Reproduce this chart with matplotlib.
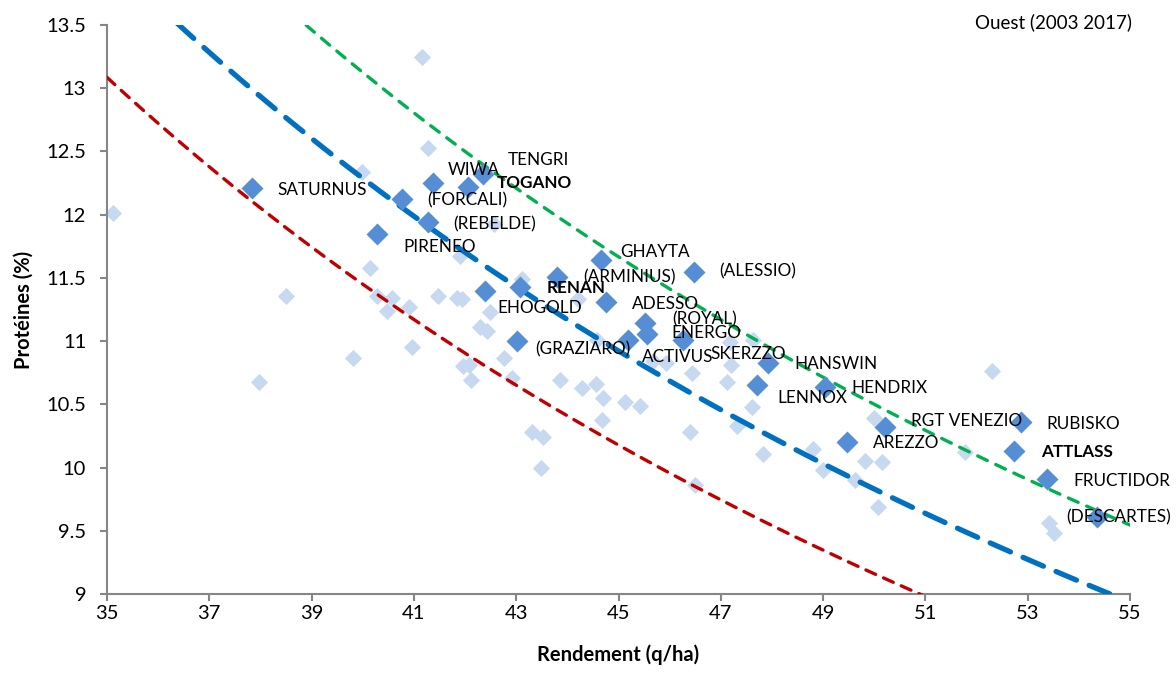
import matplotlib
matplotlib.use("Agg")
import numpy as np
from matplotlib import pyplot as plt

plt.rcParams["font.family"] = ["Lato", "DejaVu Sans"]

# All varieties (light diamonds): yield (q/ha), protein (%)
all_yield = [35.11, 37.97, 38.50, 39.81, 39.98, 40.14, 40.27, 40.57, 40.47, 40.90,
             40.96, 41.16, 41.27, 41.47, 41.84, 41.94, 41.90, 41.96, 42.07, 42.11,
             42.29, 42.43, 42.49, 42.56, 42.76, 42.92, 43.11, 43.31, 43.52, 43.48,
             43.85, 44.21, 44.28, 44.56, 44.58, 44.70, 44.68, 45.13, 45.42, 45.67,
             45.93, 46.44, 46.40, 46.49, 47.18, 47.20, 47.12, 47.32, 47.63, 47.61,
             47.82, 48.80, 49.00, 49.62, 49.82, 50.15, 50.00, 50.07, 52.30, 51.78,
             53.42, 53.52]
all_protein = [12.01, 10.68, 11.36, 10.87, 12.34, 11.58, 11.36, 11.34, 11.24, 11.27,
               10.95, 13.25, 12.53, 11.36, 11.34, 11.33, 11.67, 10.80, 10.81, 10.69,
               11.11, 11.08, 11.23, 11.93, 10.87, 10.71, 11.49, 10.28, 10.24, 10.00,
               10.69, 11.33, 10.63, 10.66, 11.01, 10.55, 10.38, 10.52, 10.49, 10.84,
               10.83, 10.75, 10.28, 9.86, 10.99, 10.81, 10.68, 10.33, 11.01, 10.48,
               10.11, 10.15, 9.98, 9.90, 10.05, 10.04, 10.39, 9.69, 10.76, 10.12,
               9.56, 9.48]

# Named varieties (dark diamonds)
names = ["SATURNUS", "WIWA", "TOGANO", "TENGRI", "(FORCALI)", "(REBELDE)", "PIRENEO",
         "GHAYTA", "(ARMINIUS)", "(ALESSIO)", "RENAN", "EHOGOLD", "ADESSO", "(ROYAL)",
         "ENERGO", "(GRAZIARO)", "ACTIVUS", "SKERZZO", "HANSWIN", "LENNOX", "HENDRIX",
         "AREZZO", "RGT VENEZIO", "RUBISKO", "ATTLASS", "FRUCTIDOR", "(DESCARTES)"]
named_yield = [37.83, 41.37, 42.05, 42.35, 40.76, 41.27, 40.27,
               44.66, 43.80, 46.47, 43.07, 42.39, 44.75, 45.52,
               45.55, 43.01, 45.18, 46.26, 47.92, 47.71, 49.04,
               49.47, 50.21, 52.87, 52.73, 53.38, 54.36]
named_protein = [12.21, 12.25, 12.22, 12.32, 12.12, 11.94, 11.85,
                 11.64, 11.51, 11.55, 11.43, 11.40, 11.31, 11.14,
                 11.06, 11.00, 11.01, 11.01, 10.83, 10.65, 10.64,
                 10.20, 10.32, 10.36, 10.13, 9.91, 9.61]
bold_names = ["TOGANO", "RENAN", "ATTLASS"]

# label placement (pixel offset from the marker)
label_offsets = [(26, -2), (15, 13), (29, 4), (25, 14), (26, -1), (26, -2), (27, -13),
                 (19, 8), (26, -1), (26, 0), (27, -1), (12, -17), (26, -2), (27, 4),
                 (25, 1), (19, -8), (14, -17), (27, -14), (27, -1), (20, -13), (26, -1),
                 (26, -1), (26, 6), (25, -2), (27, -1), (26, -2), (-31, -1)]

# iso protein-yield curves (q/ha of protein x 100): protein = k / yield
iso_k = [458.0, 491.5, 525.0]
iso_colors = ["#C00000", "#0070C0", "#00B050"]
iso_widths = [2.4, 3.8, 2.4]
iso_dashes = [(3.2, 2.6), (4.2, 2.6), (3.2, 2.8)]

fig = plt.figure(figsize=(11.76, 6.8), dpi=100)
ax = fig.add_axes([107 / 1176, 1 - 594 / 680, (1130 - 107) / 1176, (594 - 25) / 680])

ax.scatter(all_yield, all_protein, marker="D", s=8.7 ** 2, color="#C6D9F1",
           linewidths=0, zorder=2, clip_on=False)

x_line = np.linspace(35, 55, 400)
for k, c, w, d in zip(iso_k, iso_colors, iso_widths, iso_dashes):
    ax.plot(x_line, k / x_line, color=c, lw=w, dashes=d, solid_capstyle="round",
            dash_capstyle="round", zorder=3)

ax.scatter(named_yield, named_protein, marker="D", s=11.2 ** 2, color="#558ED5",
           linewidths=0, zorder=4, clip_on=False)

for n, x, y, (dx, dy) in zip(names, named_yield, named_protein, label_offsets):
    ax.annotate(n, (x, y), xytext=(dx, dy), textcoords="offset pixels",
                ha="left", va="center", fontsize=12.3,
                fontweight="bold" if n in bold_names else "normal",
                color="black", zorder=5, annotation_clip=False)

ax.set_xlim(35, 55)
ax.set_ylim(9, 13.5)
ax.set_xticks(np.arange(35, 56, 2))
ax.set_yticks(np.arange(9, 13.6, 0.5))
ax.set_yticklabels(["9", "9.5", "10", "10.5", "11", "11.5", "12", "12.5", "13", "13.5"])
for s in ["top", "right"]:
    ax.spines[s].set_visible(False)
for s in ["left", "bottom"]:
    ax.spines[s].set_color("#868686")
    ax.spines[s].set_linewidth(1.5)
ax.tick_params(axis="both", direction="out", length=5, width=1.5, color="#868686",
               labelsize=14.5, labelcolor="black")
ax.tick_params(axis="y", pad=10)
ax.tick_params(axis="x", pad=3)

ax.set_xlabel("Rendement (q/ha)", fontsize=14.5, fontweight="bold", labelpad=16)
ax.set_ylabel("Protéines (%)", fontsize=14.5, fontweight="bold", labelpad=9)

fig.text(1132 / 1176, 1 - 22 / 680, "Ouest (2003 2017)", ha="right", va="center",
         fontsize=13.5)

fig.savefig("out.png", dpi=100)
